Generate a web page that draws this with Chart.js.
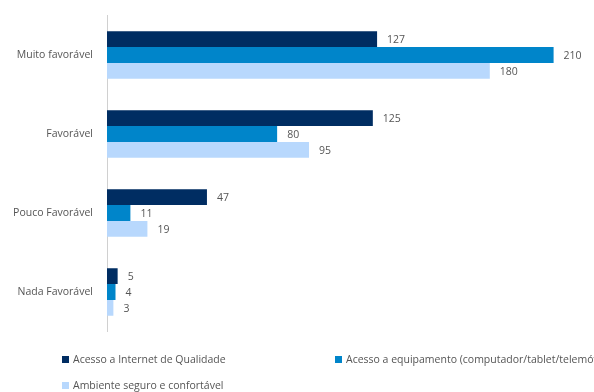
<!DOCTYPE html>
<html>
<head>
<meta charset="utf-8">
<script src="https://cdn.jsdelivr.net/npm/chart.js@4/dist/chart.umd.min.js"></script>
<style>
  html, body { margin: 0; padding: 0; background: #fff; }
  #wrap { position: relative; width: 594px; height: 392px; overflow: hidden; }
  canvas { position: absolute; left: 0; top: 0; }
  .leg { position: absolute; font-family: "Open Sans", sans-serif; font-size: 10.5px; color: #555; white-space: nowrap; line-height: 12px; }
  .leg i { display: inline-block; width: 7px; height: 7px; margin-right: 4px; vertical-align: 0px; }
</style>
</head>
<body>
<div id="wrap">
  <canvas id="c" width="594" height="392"></canvas>
  <div id="legend"></div>
</div>
<script>
const categories = ["Muito favorável", "Favorável", "Pouco Favorável", "Nada Favorável"];
const seriesNames = [
  "Acesso a Internet de Qualidade",
  "Acesso a equipamento (computador/tablet/telemóvel)",
  "Ambiente seguro e confortável"
];
const internet = [127, 125, 47, 5];
const equipamento = [210, 80, 11, 4];
const ambiente = [180, 95, 19, 3];
const colors = ["#002d62", "#0085ca", "#b8d8fd"];

// value printed just past the end of each bar, on a white box
const valueLabels = {
  id: 'valueLabels',
  afterDatasetsDraw(chart) {
    const ctx = chart.ctx;
    ctx.save();
    ctx.font = '10.5px "Open Sans", sans-serif';
    ctx.textBaseline = 'middle';
    chart.data.datasets.forEach((ds, i) => {
      chart.getDatasetMeta(i).data.forEach((bar, j) => {
        const txt = String(ds.data[j]);
        const x = bar.x + 10;
        const w = ctx.measureText(txt).width;
        ctx.fillStyle = '#fff';
        ctx.fillRect(x - 4, bar.y - 7, w + 8, 14);
        ctx.fillStyle = '#555';
        ctx.fillText(txt, x, bar.y + 1);
      });
    });
    ctx.restore();
  }
};

new Chart(document.getElementById('c'), {
  type: 'bar',
  data: {
    labels: categories,
    datasets: [internet, equipamento, ambiente].map((d, i) => ({
      label: seriesNames[i],
      data: d,
      backgroundColor: colors[i],
      borderWidth: 0,
      barPercentage: 1,
      categoryPercentage: 0.6
    }))
  },
  options: {
    indexAxis: 'y',
    responsive: false,
    animation: false,
    layout: { padding: { top: 15.5, bottom: 60.5, right: 0, left: 0 } },
    plugins: { legend: { display: false }, tooltip: { enabled: false } },
    scales: {
      x: { display: false, min: 0, max: 229 },
      y: {
        afterFit(scale) {
          scale.width = 107;
          scale.paddingTop = 0;
          scale.paddingBottom = 0;
        },
        grid: { display: false, drawTicks: false },
        border: { display: true, color: '#d0d0d0', width: 1 },
        ticks: { padding: 14, color: '#555', font: { family: '"Open Sans", sans-serif', size: 10.5 } }
      }
    }
  },
  plugins: [valueLabels]
});

// legend laid out in two rows below the plot
const legendPos = [[62, 353], [335, 353], [62, 379]];
const legend = document.getElementById('legend');
seriesNames.forEach((name, i) => {
  const d = document.createElement('div');
  d.className = 'leg';
  d.style.left = legendPos[i][0] + 'px';
  d.style.top = legendPos[i][1] + 'px';
  d.innerHTML = '<i style="background:' + colors[i] + '"></i>' + name;
  legend.appendChild(d);
});
</script>
</body>
</html>
